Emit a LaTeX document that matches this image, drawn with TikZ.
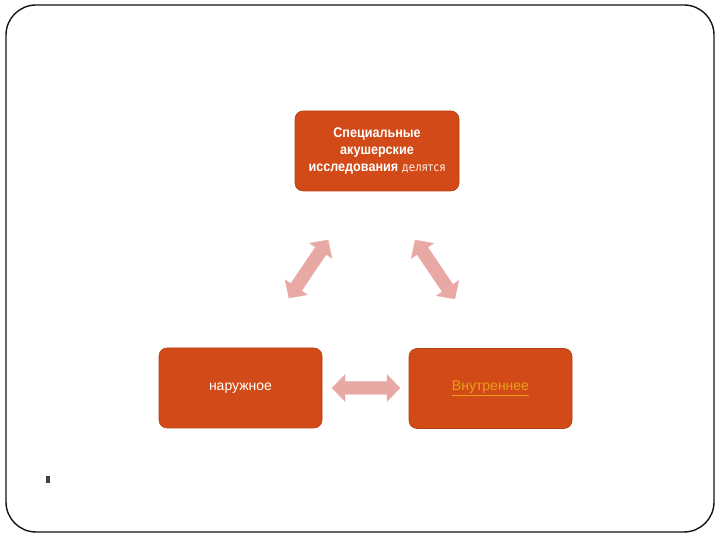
\documentclass[tikz,border=0pt]{standalone}
\usepackage{fontspec}
\setmainfont{Liberation Sans}[FakeStretch=0.9]
\newfontfamily\regfont{Liberation Sans}[FakeStretch=1.0]
\newfontfamily\thinfont{DejaVu Sans}[FakeStretch=0.85]
\definecolor{boxorange}{RGB}{209,74,24}
\definecolor{arrowpink}{RGB}{232,168,164}
\definecolor{linkgold}{RGB}{232,160,20}
\definecolor{framegray}{RGB}{20,20,20}
\tikzset{
  blockbox/.style={fill=boxorange, draw=boxorange!85!black, line width=0.6pt, rounded corners=8pt,
    minimum width=163pt, minimum height=80pt, inner sep=0pt, align=center, font=\fontsize{14}{17}\selectfont},
  fatarrow/.style={fill=arrowpink, draw=arrowpink!90!white, line width=0.4pt},
}
\newcommand{\dblarrow}[4]{% center x, center y, angle, length
  \begin{scope}[shift={(#1,#2)}, rotate=#3]
    \draw[fatarrow] (-#4/2,0) -- (-#4/2+13,13.5) -- (-#4/2+13,6.5) -- (#4/2-13,6.5) -- (#4/2-13,13.5)
      -- (#4/2,0) -- (#4/2-13,-13.5) -- (#4/2-13,-6.5) -- (-#4/2+13,-6.5) -- (-#4/2+13,-13.5) -- cycle;
  \end{scope}}
\begin{document}
\begin{tikzpicture}[x=1pt,y=1pt]
\useasboundingbox (0,0) rectangle (720,540);
\draw[framegray, line width=1.4pt, rounded corners=30pt] (6,535) rectangle (714,8);
\node[blockbox, minimum width=164pt] (top) at (377,389)
  {\textcolor{white}{\bfseries Специальные}\\\textcolor{white}{\bfseries акушерские}\\\textcolor{white}{\bfseries исследования}~{\color{white!92!orange}\fontsize{12}{17}\thinfont\selectfont делятся}};
\node[blockbox] (outer) at (240.5,152) {\regfont\textcolor{white}{наружное}};
\node[blockbox] (inner) at (490.5,151.5) {\regfont\textcolor{linkgold}{\underline{Внутреннее}}};
\dblarrow{308.5}{271}{56}{70}
\dblarrow{435}{270.5}{-56}{71}
\dblarrow{366}{152}{0}{68}
\fill[black!75] (46,57) rectangle (50,64);
\end{tikzpicture}
\end{document}
